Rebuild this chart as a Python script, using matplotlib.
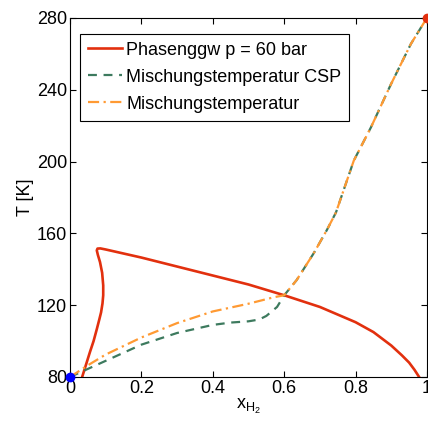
import matplotlib
matplotlib.use("Agg")
import matplotlib.pyplot as plt

plt.rcParams['font.family'] = ['Liberation Sans', 'DejaVu Sans']

# phase envelope p = 60 bar
x_env = [0.034, 0.045, 0.056, 0.066, 0.075, 0.082, 0.087, 0.091, 0.093, 0.093,
         0.090, 0.084, 0.078, 0.075, 0.077, 0.085, 0.10, 0.20, 0.30, 0.40,
         0.50, 0.60, 0.70, 0.80, 0.85, 0.90, 0.93, 0.95, 0.965, 0.978]
T_env = [80, 87, 94, 100, 106.6, 112, 116, 121, 125.5, 131,
         138, 144, 148, 150.5, 151.5, 151.6, 151, 146.5, 141.5, 136.5,
         131.5, 125.5, 119, 110.5, 105, 97.5, 92, 88, 84, 80]

# mixing temperature (CSP)
x_csp = [0.0, 0.05, 0.10, 0.20, 0.30, 0.40, 0.45, 0.50, 0.53, 0.55, 0.58, 0.60,
         0.635, 0.683, 0.72, 0.745, 0.795, 0.843, 0.899, 0.955, 1.0]
T_csp = [80, 84.5, 89, 98, 104.5, 109, 110.3, 111, 112, 114, 119, 125.5,
         134, 149, 162, 171.6, 200.5, 219, 243, 265.5, 280]

# mixing temperature
x_mix = [0.0, 0.05, 0.10, 0.20, 0.30, 0.40, 0.50, 0.571, 0.60,
         0.635, 0.683, 0.72, 0.745, 0.795, 0.843, 0.899, 0.955, 1.0]
T_mix = [80, 86.5, 92.5, 102, 110, 116.5, 120.8, 124.4, 125.5,
         134, 149, 162, 171.6, 200.5, 219, 243, 265.5, 280]

fig = plt.figure(figsize=(4.28, 4.25), dpi=100)
ax = fig.add_axes([0.1636, 0.113, 0.834, 0.845])

ax.plot(x_env, T_env, color='#e2300e', lw=1.9, label='Phasenggw p = 60 bar')
ax.plot(x_csp, T_csp, color='#3d7a5e', lw=1.6, ls=(0, (4, 3)), label='Mischungstemperatur CSP')
ax.plot(x_mix, T_mix, color='#ff9a33', lw=1.6, ls=(0, (5, 2, 1, 2)), label='Mischungstemperatur')

ax.plot([0], [80], 'o', color='blue', ms=6, clip_on=False, zorder=5)
ax.plot([1], [280], 'o', color='#e2300e', ms=6, clip_on=False, zorder=5)

ax.set_xlim(0, 1)
ax.set_ylim(80, 280)
ax.set_xticks([0, 0.2, 0.4, 0.6, 0.8, 1])
ax.set_xticklabels(['0', '0.2', '0.4', '0.6', '0.8', '1'])
ax.set_yticks([80, 120, 160, 200, 240, 280])
ax.tick_params(direction='in', top=True, right=True, labelsize=13, length=4, pad=2)
ax.set_xlabel('$\\mathregular{x_{H_2}}$', fontsize=13, labelpad=0)
ax.set_ylabel('T [K]', fontsize=13, labelpad=2)

leg = ax.legend(loc='upper left', bbox_to_anchor=(0.028, 0.956), fontsize=13,
                fancybox=False, edgecolor='black', framealpha=1, borderaxespad=0,
                handlelength=1.9, labelspacing=0.55, handletextpad=0.2, borderpad=0.45)
leg.get_frame().set_linewidth(0.8)

fig.savefig('out.png', dpi=100)
